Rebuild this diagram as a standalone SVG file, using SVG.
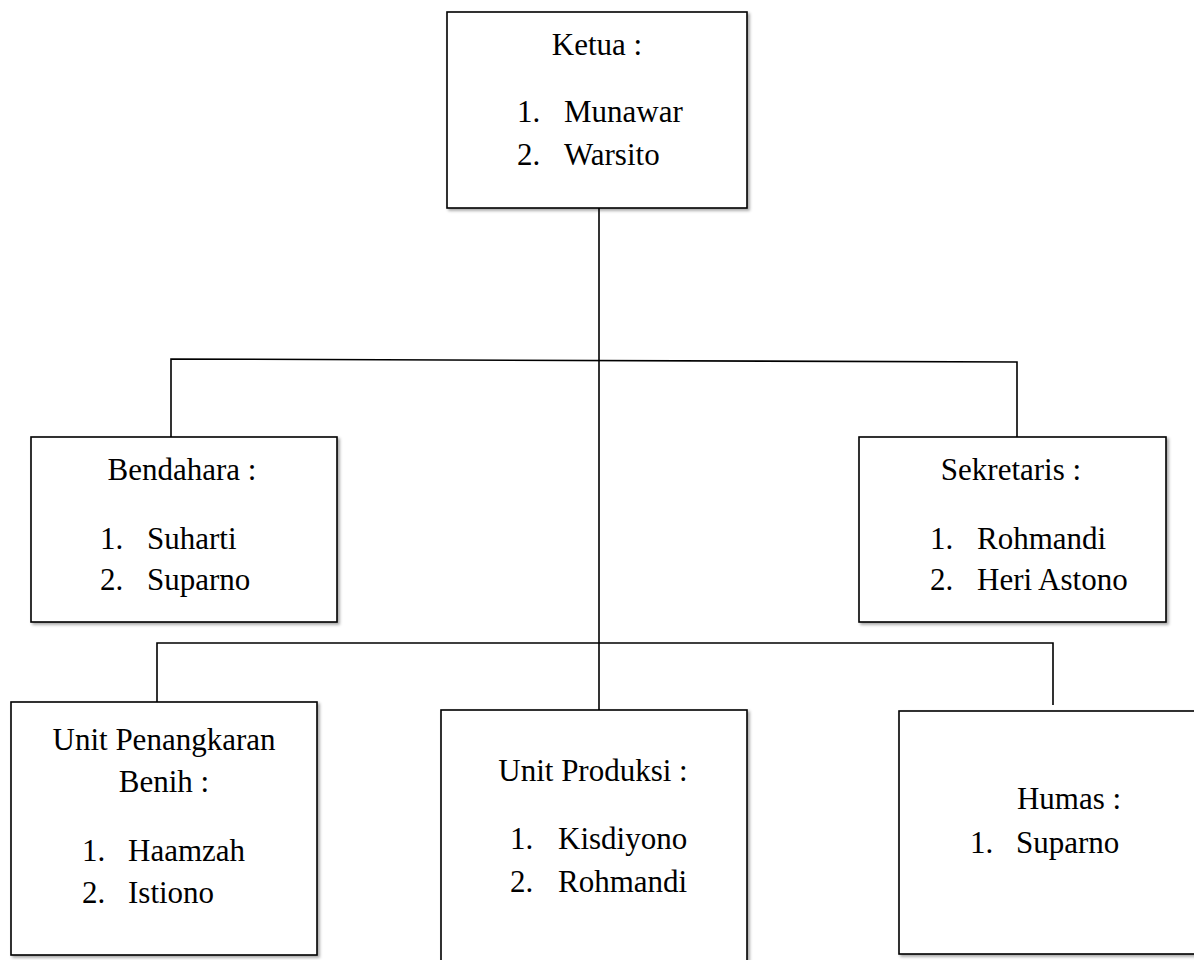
<svg xmlns="http://www.w3.org/2000/svg" width="1194" height="960" viewBox="0 0 1194 960">
<defs>
<filter id="sh" x="-5%" y="-5%" width="115%" height="115%">
<feDropShadow dx="2" dy="2" stdDeviation="1.5" flood-color="#000" flood-opacity="0.35"/>
</filter>
</defs>
<style>
.box{fill:#fff;stroke:#000;stroke-width:1.6;filter:url(#sh)}
.ln{stroke:#000;stroke-width:1.6;fill:none}
text{font-family:"Liberation Serif","Times New Roman",serif;font-size:31px;fill:#000}
.c{text-anchor:middle}
</style>
<rect width="1194" height="960" fill="#fff"/>
<g id="connectors">
<line class="ln" x1="599" y1="208" x2="599" y2="643"/>
<polyline class="ln" points="171,437 171,359 1017,362 1017,437"/>
<polyline class="ln" points="157,702 157,643 1053,643 1053,705"/>
<line class="ln" x1="599" y1="643" x2="599" y2="710"/>
</g>
<g id="ketua">
<rect class="box" x="447" y="12" width="300" height="196"/>
<text class="c" x="597" y="55">Ketua :</text>
<text x="517" y="122">1.</text><text x="564" y="122">Munawar</text>
<text x="517" y="165">2.</text><text x="564" y="165">Warsito</text>
</g>
<g id="bendahara">
<rect class="box" x="31" y="437" width="306" height="185"/>
<text class="c" x="182" y="480">Bendahara :</text>
<text x="100" y="549">1.</text><text x="147" y="549">Suharti</text>
<text x="100" y="590">2.</text><text x="147" y="590">Suparno</text>
</g>
<g id="sekretaris">
<rect class="box" x="859" y="437" width="307" height="185"/>
<text class="c" x="1011" y="480">Sekretaris :</text>
<text x="930" y="549">1.</text><text x="977" y="549">Rohmandi</text>
<text x="930" y="590">2.</text><text x="977" y="590">Heri Astono</text>
</g>
<g id="penangkaran">
<rect class="box" x="11" y="702" width="306" height="253"/>
<text class="c" x="164" y="750">Unit Penangkaran</text>
<text class="c" x="164" y="792">Benih :</text>
<text x="82" y="861">1.</text><text x="128" y="861">Haamzah</text>
<text x="82" y="903">2.</text><text x="128" y="903">Istiono</text>
</g>
<g id="produksi">
<rect class="box" x="441" y="710" width="306" height="260"/>
<text class="c" x="593" y="781">Unit Produksi :</text>
<text x="510" y="849">1.</text><text x="558" y="849">Kisdiyono</text>
<text x="510" y="892">2.</text><text x="558" y="892">Rohmandi</text>
</g>
<g id="humas">
<rect class="box" x="899" y="711" width="310" height="243"/>
<text class="c" x="1069" y="809">Humas :</text>
<text x="970" y="853">1.</text><text x="1016" y="853">Suparno</text>
</g>
</svg>
